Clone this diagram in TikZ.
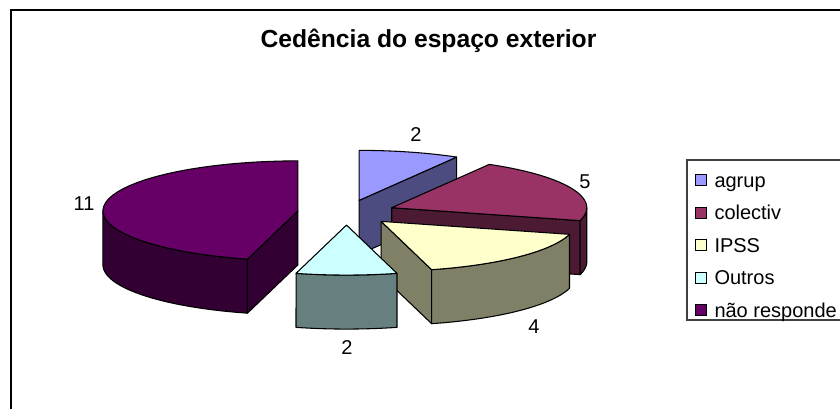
\documentclass[tikz,border=0pt]{standalone}
\usepackage{fontspec}
\setmainfont{Liberation Sans}
\usetikzlibrary{positioning}
\def\rx{195}
\def\ry{50}
\def\dz{54}
\def\ex{49}
\definecolor{agrupTop}{HTML}{9999FF}
\definecolor{agrupSide}{HTML}{4C4C80}
\definecolor{colTop}{HTML}{993366}
\definecolor{colSide}{HTML}{4D1A33}
\definecolor{ipssTop}{HTML}{FFFFCC}
\definecolor{ipssSide}{HTML}{808066}
\definecolor{outTop}{HTML}{CCFFFF}
\definecolor{outSide}{HTML}{668080}
\definecolor{naoTop}{HTML}{660066}
\definecolor{naoSide}{HTML}{330033}
\tikzstyle{face}=[draw=black,line width=0.8pt,line join=round]
\tikzstyle{key}=[draw=black,line width=0.6pt,minimum size=8.25pt,inner sep=0pt]
\tikzstyle{keytext}=[font=\fontsize{15}{18}\selectfont,inner sep=0pt,text height=14pt,text depth=3.2pt]
\tikzstyle{value}=[font=\fontsize{15}{18}\selectfont,inner sep=0pt]
\newcommand{\newCentre}[3]{\pgfmathsetmacro\midAng{(#2+#3)/2}
  \coordinate (#1) at ({346.5+\ex*sin(\midAng)},{212.5-\ex*\ry/\rx*cos(\midAng)});}
\newcommand{\sliceTop}[4]{\filldraw[face,fill=#4,shift={(#1)}] (0,0) -- plot[domain=#2:#3,samples=40] ({\rx*sin(\x)},{-\ry*cos(\x)}) -- cycle;}
\newcommand{\sliceWall}[3]{\filldraw[face,fill=#3,shift={(#1)}] (0,0) -- ({\rx*sin(#2)},{-\ry*cos(#2)}) -- ++(0,\dz) -- (0,\dz) -- cycle;}
\newcommand{\sliceRim}[4]{\filldraw[face,fill=#4,shift={(#1)}] plot[domain=#2:#3,samples=30] ({\rx*sin(\x)},{-\ry*cos(\x)}) -- plot[domain=#3:#2,samples=30] ({\rx*sin(\x)},{\dz-\ry*cos(\x)}) -- cycle;}

\begin{document}
\begin{tikzpicture}[x=0.75pt,y=-0.75pt,
      node distance=15.5pt and 5.5pt
      ]
      \path[use as bounding box] (0,0) rectangle (840,408);
      \clip (0,0) rectangle (840,408);
      \draw[line width=1.5pt] (11,10) rectangle (850,420);
      \node[font=\bfseries\fontsize{18.5}{22}\selectfont] (title) at (428.5,41) {Cedência do espaço exterior};
      % slice centres, pulled out from the middle
      \newCentre{agrup}{0}{30}
      \newCentre{colectiv}{30}{105}
      \newCentre{ipss}{105}{165}
      \newCentre{outros}{165}{195}
      \newCentre{nao}{195}{360}
      % back to front
      \sliceWall{agrup}{30}{agrupSide}
      \sliceTop{agrup}{0}{30}{agrupTop}
      \sliceWall{colectiv}{105}{colSide}
      \sliceRim{colectiv}{90}{105}{colSide}
      \sliceTop{colectiv}{30}{105}{colTop}
      \sliceWall{nao}{195}{naoSide}
      \sliceRim{nao}{195}{270}{naoSide}
      \sliceTop{nao}{195}{360}{naoTop}
      \sliceWall{ipss}{165}{ipssSide}
      \sliceRim{ipss}{105}{165}{ipssSide}
      \sliceTop{ipss}{105}{165}{ipssTop}
      \sliceRim{outros}{165}{195}{outSide}
      \sliceTop{outros}{165}{195}{outTop}
      % values
      \node[value] (vAgrup) at (416,135) {2};
      \node[value] (vColectiv) at (585,182) {5};
      \node[value] (vIpss) at (534,327) {4};
      \node[value] (vOutros) at (347,348) {2};
      \node[value] (vNao) at (84,204) {11};
      % legend
      \draw[line width=0.8pt,draw=black!75] (687,160) rectangle (850,320);
      \node[key,fill=agrupTop] (kAgrup) at (701,180) {};
      \node[key,fill=colTop,below=of kAgrup] (kColectiv) {};
      \node[key,fill=ipssTop,below=of kColectiv] (kIpss) {};
      \node[key,fill=outTop,below=of kIpss] (kOutros) {};
      \node[key,fill=naoTop,below=of kOutros] (kNao) {};
      \node[keytext,right=of kAgrup] (tAgrup) {agrup};
      \node[keytext,right=of kColectiv] (tColectiv) {colectiv};
      \node[keytext,right=of kIpss] (tIpss) {IPSS};
      \node[keytext,right=of kOutros] (tOutros) {Outros};
      \node[keytext,right=of kNao] (tNao) {não responde};
\end{tikzpicture}
\end{document}
